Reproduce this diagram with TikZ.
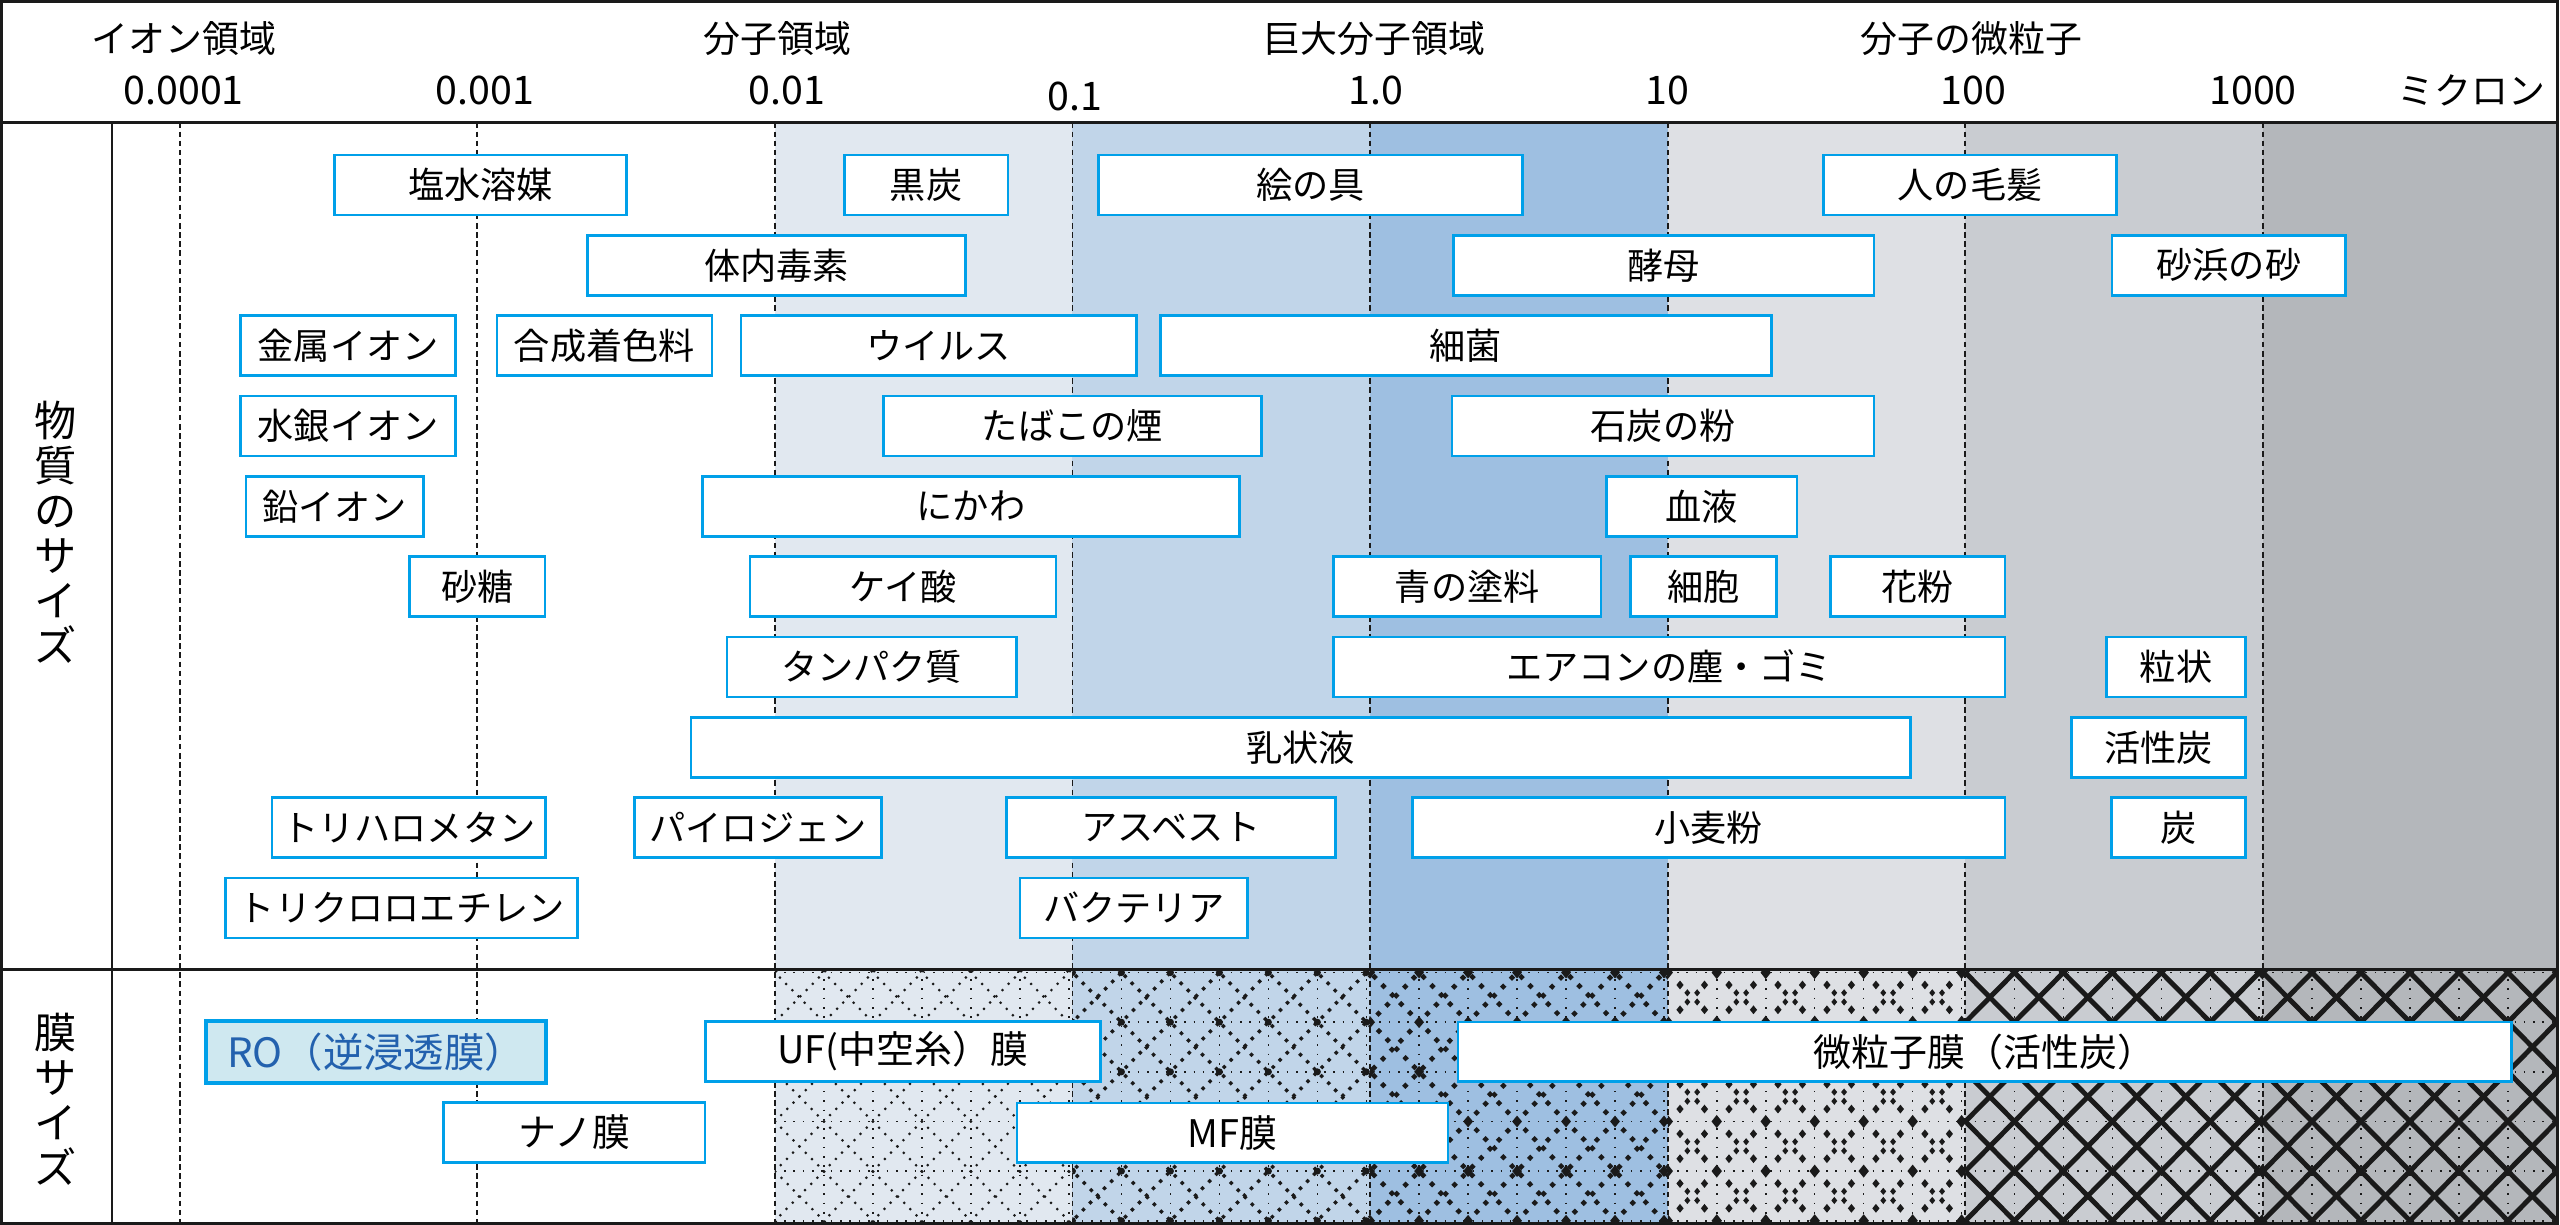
\documentclass[tikz,border=0pt]{standalone}
\usepackage{fontspec}
\setmainfont{Noto Sans CJK JP}
\definecolor{bandA}{HTML}{E1E8F0}
\definecolor{bandB}{HTML}{C1D5E9}
\definecolor{bandC}{HTML}{9EBFE1}
\definecolor{bandD}{HTML}{DEE0E4}
\definecolor{bandE}{HTML}{C9CCD1}
\definecolor{bandF}{HTML}{B4B7BB}
\definecolor{cyanb}{HTML}{00A0E9}
\definecolor{rofill}{HTML}{CFE8F0}
\definecolor{rotext}{HTML}{2361AE}
\definecolor{ink}{HTML}{1A1A1A}
\newcommand\bx[7][box]{%
  \pgfmathsetmacro\bxw{(#5-#3)*0.0163265}%
  \pgfmathsetmacro\bxh{(#6-#4)*0.0163265}%
  \node[#1, minimum width=\bxw cm, minimum height=\bxh cm] (#2) at ({(#3+#5)/2},{(#4+#6)/2}) {#7};}
\newcommand\rb[5]{\bx{#1}{#2}{(#3-18.4)}{#4}{(#3+18.4)}{#5}}
\newcommand\diagset[2]{\foreach \i in {-3,...,10}{%
  \draw[#2] ({#1+30*\i-110},575.4) -- ++(220,223);
  \draw[#2] ({#1+30*\i-110},798.4) -- ++(220,-223);}}
\newcommand\hgrid[3]{\foreach \m in {-3,...,2}{\draw[#3] (#1,{686.9+30.4*\m}) -- (#2,{686.9+30.4*\m});}%
  \foreach \k in {1,...,6}{\draw[#3] ({#1+30*\k},594) -- ({#1+30*\k},749);}}
\newcommand\dmd[4]{\fill[ink] ({#1},{#2}) +(-#3,0) -- +(0,-#4) -- +(#3,0) -- +(0,#4) -- cycle;}
\begin{document}
\begin{tikzpicture}[x=0.0163265cm, y=-0.0163265cm,
  box/.style={draw=cyanb, fill=white, line width=0.75pt, inner sep=0pt, text=black,
    font=\fontsize{10.3pt}{12pt}\selectfont},
  robox/.style={draw=cyanb, fill=rofill, line width=1.2pt, inner sep=0pt, text=rotext,
    font=\fontsize{11.5pt}{13pt}\selectfont},
  mbox/.style={box, font=\fontsize{10.8pt}{12pt}\selectfont},
  hdr/.style={inner sep=0pt, font=\fontsize{10.5pt}{12pt}\selectfont},
  num/.style={inner sep=0pt, font=\fontsize{11.2pt}{12pt}\selectfont},
  vlab/.style={inner sep=0pt, align=center, font=\fontsize{12pt}{12.8pt}\selectfont},
  dec/.style={ink, line width=0.55pt, dash pattern=on 1.6pt off 1pt},
  frame/.style={ink, line width=0.85pt},
  pA/.style={ink, line width=0.6pt, dash pattern=on 0.6pt off 1.9pt},
  pB/.style={ink, line width=0.95pt, dash pattern=on 0.95pt off 1.9pt},
  pC/.style={ink, line width=1.3pt, dash pattern=on 1.3pt off 2.3pt},
  pE/.style={ink, line width=1.4pt},
  pthin/.style={ink, line width=0.45pt, dash pattern=on 0.45pt off 2.2pt}]
\useasboundingbox (0,0) rectangle (1568,750.3);
\fill[white] (0,0) rectangle (1568,750.3);
% background bands
\fill[bandA] (474.6,75) rectangle (656.9,749);
\fill[bandB] (656.9,75) rectangle (839.2,749);
\fill[bandC] (839.2,75) rectangle (1021.5,749);
\fill[bandD] (1021.5,75) rectangle (1203.8,749);
\fill[bandE] (1203.8,75) rectangle (1386.1,749);
\fill[bandF] (1386.1,75) rectangle (1566.5,749);
% membrane-row patterns
\begin{scope}
  \clip (474.6,594) rectangle (656.9,749);
  \diagset{474.6}{pA}
  \hgrid{474.6}{656.9}{pthin}
\end{scope}
\begin{scope}
  \clip (656.9,594) rectangle (839.2,749);
  \diagset{656.9}{pB}
  \hgrid{656.9}{839.2}{pthin}
  \foreach \k in {0,...,6}{\foreach \m in {-3,...,2}{
    \fill[ink] ({656.9+30*\k},{686.9+30.4*\m}) circle[radius=1pt];}}
\end{scope}
\begin{scope}
  \clip (839.2,594) rectangle (1021.5,749);
  \diagset{839.2}{pC}
  \hgrid{839.2}{1021.5}{pthin}
  \foreach \k in {0,...,6}{\foreach \m in {-3,...,2}{
    \dmd{839.2+30*\k}{686.9+30.4*\m}{3}{3.6}}}
\end{scope}
\begin{scope}
  \clip (1021.5,594) rectangle (1203.8,749);
  \hgrid{1021.5}{1203.8}{pthin}
  \foreach \k in {-1,...,6}{\foreach \m in {-3,...,2}{
    \dmd{1021.5+30*\k}{686.9+30.4*\m}{3.2}{4}
    \dmd{1021.5+30*\k+7.5}{686.9+30.4*\m+7.6}{2.2}{2.7}
    \dmd{1021.5+30*\k-7.5}{686.9+30.4*\m+7.6}{2.2}{2.7}
    \dmd{1021.5+30*\k+7.5}{686.9+30.4*\m-7.6}{2.2}{2.7}
    \dmd{1021.5+30*\k-7.5}{686.9+30.4*\m-7.6}{2.2}{2.7}
    \dmd{1021.5+30*\k+12}{686.9+30.4*\m+12.4}{1.8}{2.2}
    \dmd{1021.5+30*\k+18}{686.9+30.4*\m+12.4}{1.8}{2.2}
    \dmd{1021.5+30*\k+12}{686.9+30.4*\m+18}{1.8}{2.2}
    \dmd{1021.5+30*\k+18}{686.9+30.4*\m+18}{1.8}{2.2}}}
\end{scope}
\begin{scope}
  \clip (1203.8,594) rectangle (1386.1,749);
  \hgrid{1203.8}{1386.1}{pthin}
  \diagset{1203.8}{pE}
\end{scope}
\begin{scope}
  \clip (1386.1,594) rectangle (1566.5,749);
  \hgrid{1386.1}{1566.5}{pthin}
  \diagset{1386.1}{pE}
\end{scope}
% decade lines
\foreach \x in {110,292.3,474.6,656.9,839.2,1021.5,1203.8,1386.1}
  \draw[dec] (\x,75) -- (\x,749);
% frame
\draw[frame] (0.7,0.7) rectangle (1566.5,749.3);
\draw[frame] (0.7,75) -- (1566.5,75);
\draw[frame] (0.7,594) -- (1566.5,594);
\draw[ink, line width=0.65pt] (68.6,75) -- (68.6,749.3);
% header
\node[hdr] (h1) at (112.5,23.5) {イオン領域};
\node[hdr] (h2) at (476,23.5) {分子領域};
\node[hdr] (h3) at (841.7,23.5) {巨大分子領域};
\node[hdr] (h4) at (1207.6,23.5) {分子の微粒子};
\node[num] (n1) at (112.5,55.6) {0.0001};
\node[num] (n2) at (297,55.6) {0.001};
\node[num] (n3) at (482,55.6) {0.01};
\node[num] (n4) at (658.6,59.2) {0.1};
\node[num] (n5) at (842.6,55.6) {1.0};
\node[num] (n6) at (1021.3,55.6) {10};
\node[num] (n7) at (1208.8,55.6) {100};
\node[num] (n8) at (1380,55.6) {1000};
\node[hdr] (n9) at (1513.7,55.6) {ミクロン};
% left labels
\node[vlab] (lab1) at (34.3,326) {物\\質\\の\\サ\\イ\\ズ};
\node[vlab] (lab2) at (34.3,673.4) {膜\\サ\\イ\\ズ};
% matter boxes
\rb{b1a}{205}{113.3}{383.7}{塩水溶媒}
\rb{b1b}{517.2}{113.3}{617.3}{黒炭}
\rb{b1c}{673}{113.3}{932.6}{絵の具}
\rb{b1d}{1116.8}{113.3}{1296.5}{人の毛髪}
\rb{b2a}{359.8}{162.5}{591.4}{体内毒素}
\rb{b2b}{890.4}{162.5}{1147.9}{酵母}
\rb{b2c}{1293.6}{162.5}{1436.7}{砂浜の砂}
\rb{b3a}{147.5}{211.7}{279}{金属イオン}
\rb{b3b}{304.3}{211.7}{436}{合成着色料}
\rb{b3c}{453.8}{211.7}{696}{ウイルス}
\rb{b3d}{710.7}{211.7}{1084.9}{細菌}
\rb{b4a}{147.5}{260.9}{279}{水銀イオン}
\rb{b4b}{541.1}{260.9}{772.6}{たばこの煙}
\rb{b4c}{889.4}{260.9}{1147.9}{石炭の粉}
\rb{b5a}{150.7}{310.1}{259.2}{鉛イオン}
\rb{b5b}{430.4}{310.1}{759}{にかわ}
\rb{b5c}{983.8}{310.1}{1100.6}{血液}
\rb{b6a}{250.8}{359.3}{333.8}{砂糖}
\rb{b6b}{459.3}{359.3}{646.8}{ケイ酸}
\rb{b6c}{816.8}{359.3}{980.6}{青の塗料}
\rb{b6d}{998.8}{359.3}{1088}{細胞}
\rb{b6e}{1121}{359.3}{1228}{花粉}
\rb{b7a}{445.3}{408.5}{622.5}{タンパク質}
\rb{b7b}{816.8}{408.5}{1228}{エアコンの塵・ゴミ}
\rb{b7c}{1290.3}{408.5}{1375.4}{粒状}
\rb{b8a}{423.3}{457.7}{1170}{乳状液}
\rb{b8b}{1268.6}{457.7}{1375.4}{活性炭}
\rb{b9a}{166.5}{506.9}{334.2}{トリハロメタン}
\rb{b9b}{388.6}{506.9}{540}{パイロジェン}
\rb{b9c}{616.3}{506.9}{817.9}{アスベスト}
\rb{b9d}{865}{506.9}{1228}{小麦粉}
\rb{b9e}{1293.4}{506.9}{1375.4}{炭}
\rb{b10a}{138.3}{556.1}{353.9}{トリクロロエチレン}
\rb{b10b}{624.8}{556.1}{764}{バクテリア}
% membrane boxes
\bx[robox]{ro}{126.2}{625.6}{334.5}{663.4}{RO（逆浸透膜）}
\bx[mbox]{uf}{432}{625.6}{674.2}{662.4}{UF(中空糸）膜}
\bx[mbox]{fine}{893}{626}{1538.3}{662.4}{微粒子膜（活性炭）}
\bx[mbox]{nano}{271.6}{675.3}{431.8}{712}{ナノ膜}
\bx[mbox]{mf}{622.8}{675.5}{887}{712}{MF膜}
\end{tikzpicture}
\end{document}
